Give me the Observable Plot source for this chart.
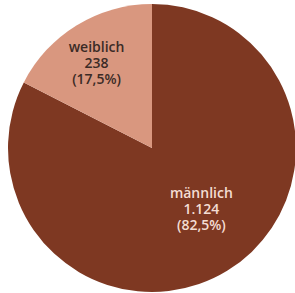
<!DOCTYPE html>
<html><head><meta charset="utf-8">
<script src="https://cdn.jsdelivr.net/npm/d3@7"></script>
<script src="https://cdn.jsdelivr.net/npm/@observablehq/plot@0.6"></script>
<style>body{margin:0;background:#fff}#c{width:295px;height:293px;overflow:hidden}</style>
</head><body><div id="c"></div>
<script>
const categories = ["männlich", "weiblich"];
const counts = [1124, 238];
const countLabels = ["1.124", "238"];
const percentLabels = ["(82,5%)", "(17,5%)"];

const colors = ["#7e3822", "#d9977f"];
const textColors = ["#f4ddd3", "#3b2b26"];
const labelRadius = [0.54, 0.71];
const labelAngleShift = [-0.13, -0.03];

const arcs = d3.pie().sort(null).value(d => d.count)(
  categories.map((c, i) => ({cat: c, count: counts[i], i}))
);
const slices = arcs.map(a => {
  const i = a.data.i;
  const mid = (a.startAngle + a.endAngle) / 2 + labelAngleShift[i];
  const k = labelRadius[i];
  return {
    cat: a.data.cat, i, start: a.startAngle, end: a.endAngle,
    lx: Math.sin(mid) * k, ly: Math.cos(mid) * k,
    label: `${a.data.cat}\n${countLabels[i]}\n${percentLabels[i]}`
  };
});

function pieMark(index, scales) {
  const sx = scales.x, sy = scales.y;
  const cx = sx(0), cy = sy(0), r = sx(1) - sx(0);
  const g = d3.create("svg:g").attr("transform", `translate(${cx},${cy})`);
  const arc = d3.arc().innerRadius(0).outerRadius(r);
  g.selectAll("path").data(slices).join("path")
    .attr("d", d => arc({startAngle: d.start, endAngle: d.end}))
    .attr("fill", d => colors[d.i]);
  return g.node();
}

const chart = Plot.plot({
  width: 295, height: 293,
  margin: 0,
  x: {domain: [-1, 1], range: [8, 296], axis: null},
  y: {domain: [-1, 1], range: [292, 4], axis: null},
  style: {background: "#fff"},
  marks: [
    pieMark,
    Plot.text(slices, {
      x: "lx", y: "ly", text: "label",
      fill: d => textColors[d.i],
      fontSize: 14, fontWeight: 600, lineHeight: 1.15,
      fontFamily: "Open Sans"
    })
  ]
});
document.getElementById("c").appendChild(chart);
</script>
</body></html>
